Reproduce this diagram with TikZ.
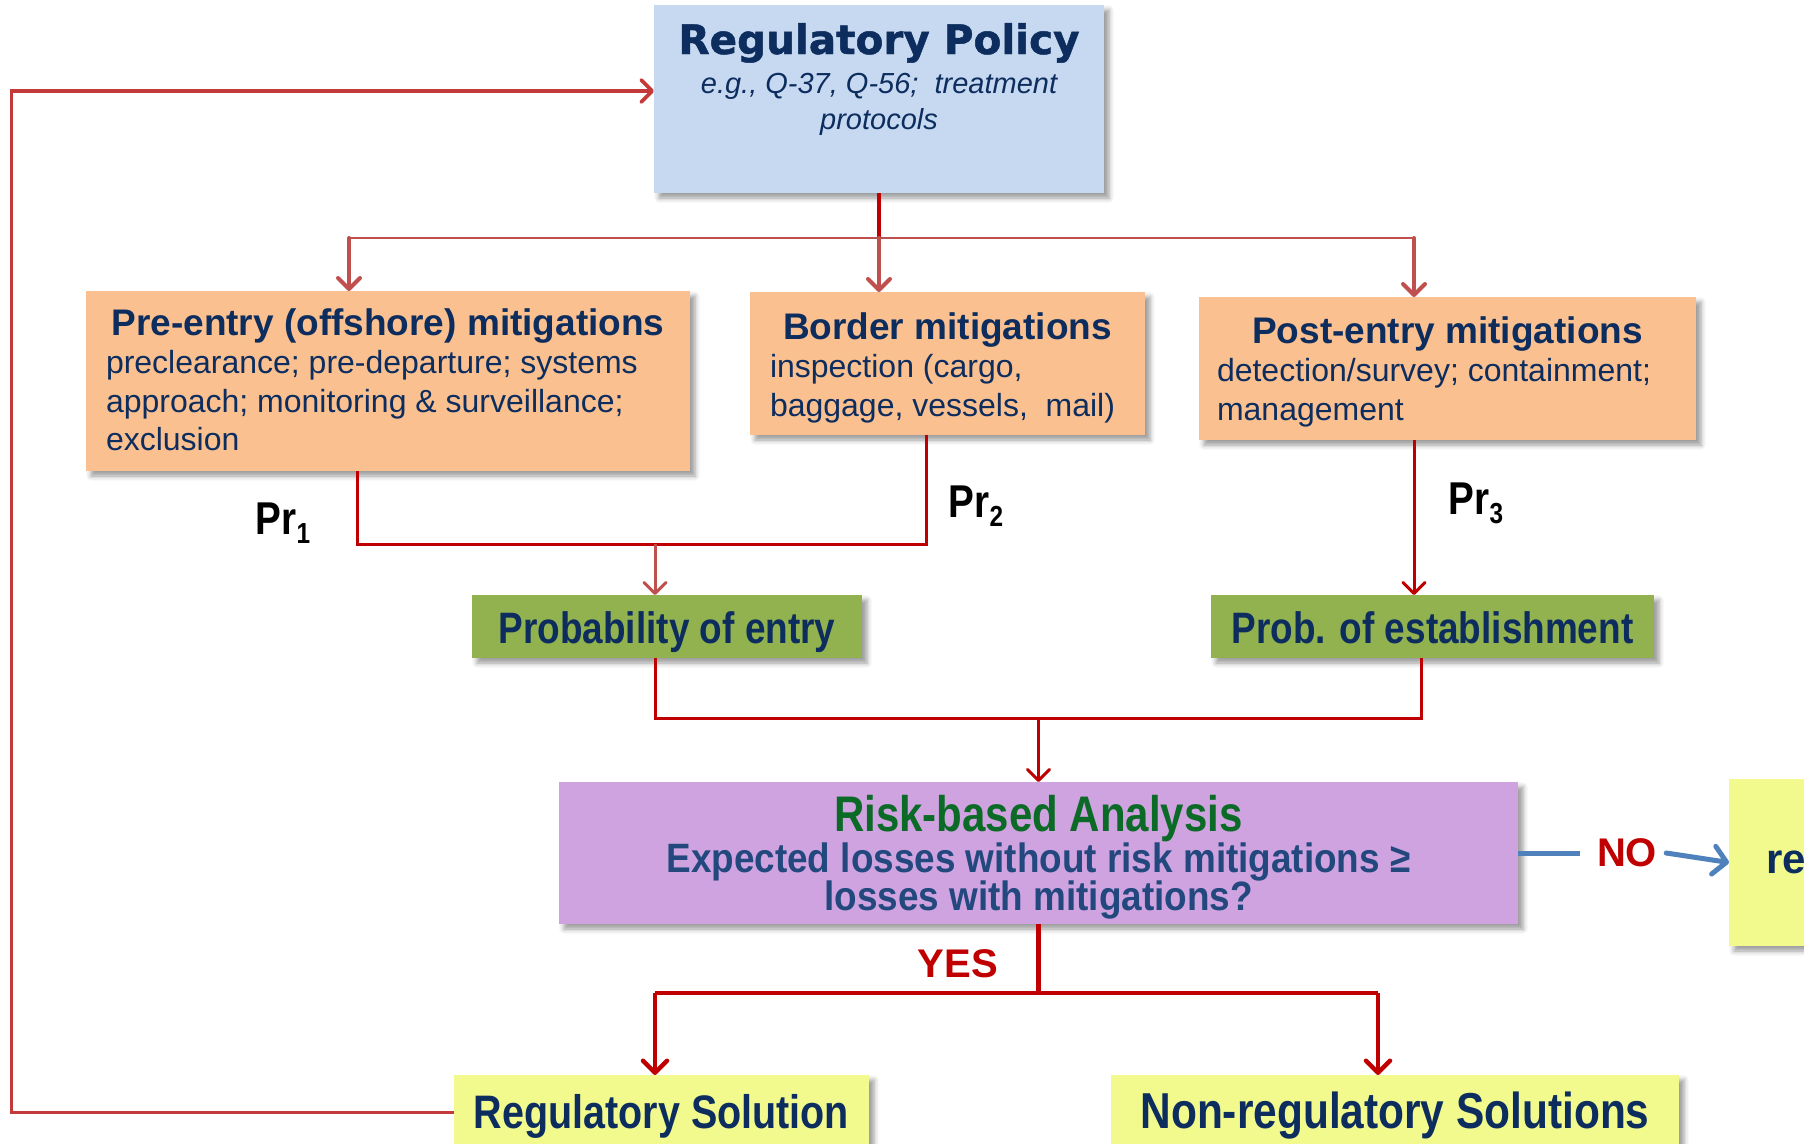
\documentclass[tikz,border=0pt]{standalone}
\usepackage{fontspec}
\setmainfont{Liberation Sans}
\newfontfamily\heavyfont[FakeBold=1.2]{DejaVu Sans Bold}
\newfontfamily\narrowfont[FakeStretch=0.84]{Liberation Sans}
\newfontfamily\semifont[FakeStretch=0.9]{Liberation Sans}
\usetikzlibrary{arrows.meta,shadows.blur}

\definecolor{polblue}{HTML}{C6D9F1}
\definecolor{orng}{HTML}{FAC090}
\definecolor{grn}{HTML}{92B250}
\definecolor{purp}{HTML}{CFA3E0}
\definecolor{ylw}{HTML}{F2FA8E}
\definecolor{navy}{HTML}{0D2D5E}
\definecolor{rgreen}{HTML}{0B6A26}
\definecolor{rblue}{HTML}{22487E}
\definecolor{dkred}{HTML}{C00000}
\definecolor{ltred}{HTML}{C0504D}
\definecolor{fbred}{HTML}{C43A3A}
\definecolor{nblue}{HTML}{4F81BD}

\tikzset{
  box/.style={inner sep=0pt, outer sep=0pt,
    blur shadow={shadow xshift=5pt, shadow yshift=-5pt, shadow blur radius=5pt, shadow opacity=40}},
  barb/.style={-{Straight Barb[length=11pt, width=22pt, line cap=round, line join=round]}},
  dkline/.style={draw=dkred, line width=3pt, line join=miter},
  dkthick/.style={draw=dkred, line width=4.5pt, line join=miter},
  ltline/.style={draw=ltred, line width=2.6pt},
  ltarrow/.style={draw=ltred, line width=4pt, line cap=round, barb},
  ltarrowthin/.style={draw=ltred, line width=3pt, barb},
  dkarrow/.style={draw=dkred, line width=3pt, barb},
  dkthickarrow/.style={draw=dkred, line width=4.5pt,
    -{Straight Barb[length=12pt, width=24pt, line cap=round, line join=round]}},
  fbline/.style={draw=fbred, line width=3.6pt, line join=miter, barb},
  blueln/.style={draw=nblue, line width=5pt},
  bluearrow/.style={draw=nblue, line width=5pt, line cap=round,
    -{Straight Barb[length=13pt, width=28pt, line cap=round, line join=round]}},
  answer/.style={inner sep=0pt, text=dkred, font=\bfseries\fontsize{40}{40}\selectfont},
  prlabel/.style={inner sep=0pt, text=black, font=\narrowfont\bfseries\fontsize{46}{46}\selectfont},
  solbox/.style={box, fill=ylw, text=navy, text height=36pt, text depth=5pt},
  probbox/.style={box, fill=grn, text=navy, text height=33pt, text depth=0pt,
    font=\narrowfont\bfseries\fontsize{44}{44}\selectfont}
}

\newcommand{\prsub}[1]{\raisebox{-9pt}{\fontsize{29}{29}\selectfont #1}}

\begin{document}
\begin{tikzpicture}[x=1pt, y=-1pt]
\useasboundingbox (0,0) rectangle (1804,1143);
\clip (0,0) rectangle (1804,1143);

% ---- policy box
\node[box, fill=polblue] (pol) at (879,99) {\parbox[c][188pt][t]{450pt}{\centering\color{navy}\lineskiplimit=-100pt
  {\heavyfont\fontsize{40.5}{45}\selectfont\rule{0pt}{49pt}Regulatory Policy\par}
  {\itshape\fontsize{29}{39}\selectfont e.g., Q-37, Q-56;\ \ treatment\par}
  {\itshape\fontsize{29}{36}\selectfont protocols\par}}};

% ---- mitigation boxes
\node[box, fill=orng] (pre) at (388,381) {\parbox[c][180pt][t]{604pt}{\color{navy}
  {\centering\bfseries\fontsize{37}{40}\selectfont\rule{0pt}{44pt}Pre-entry (offshore) mitigations\par}
  {\raggedright\leftskip=20pt\fontsize{32}{38.5}\selectfont preclearance; pre-departure; systems\\
   approach; monitoring \& surveillance;\\ exclusion\par}}};

\node[box, fill=orng] (bor) at (947.5,363.5) {\parbox[c][143pt][t]{395pt}{\color{navy}
  {\centering\bfseries\fontsize{37}{40}\selectfont\rule{0pt}{47pt}Border mitigations\par}
  {\raggedright\leftskip=20pt\fontsize{32}{38.5}\selectfont inspection (cargo,\\
   baggage, vessels,\ \ mail)\par}}};

\node[box, fill=orng] (post) at (1447.5,368.5) {\parbox[c][143pt][t]{497pt}{\color{navy}
  {\centering\bfseries\fontsize{37}{40}\selectfont\rule{0pt}{46pt}Post-entry mitigations\par}
  {\raggedright\leftskip=18pt\fontsize{32}{38.5}\selectfont detection/survey; containment;\\
   management\par}}};

% ---- probability boxes
\node[probbox, minimum width=390pt, minimum height=63pt] (pen) at (667,626.5) {Probability of entry\hspace{14pt}};
\node[probbox, minimum width=443pt, minimum height=63pt] (pest) at (1432.5,626.5) {Prob. of establishment};

% ---- analysis box
\node[box, fill=purp] (risk) at (1038.5,853) {\parbox[c][142pt][t]{959pt}{\centering\bfseries\lineskiplimit=-100pt
  {\narrowfont\bfseries\color{rgreen}\fontsize{50}{50}\selectfont\rule{0pt}{49pt}Risk-based Analysis\par}
  {\semifont\bfseries\color{rblue}\fontsize{41}{41}\selectfont Expected losses without risk mitigations ≥\par}
  {\semifont\bfseries\color{rblue}\fontsize{41}{38}\selectfont losses with mitigations?\par}}};

% ---- outcome boxes
\node[solbox, minimum width=415pt, minimum height=75pt,
      font=\narrowfont\bfseries\fontsize{47}{47}\selectfont] (rsol) at (661.5,1112.5) {Regulatory Solution};
\node[solbox, minimum width=568pt, minimum height=75pt,
      font=\narrowfont\bfseries\fontsize{50.5}{50.5}\selectfont] (nsol) at (1395,1112.5) {Non-regulatory Solutions};
\node[box, fill=ylw, anchor=west, minimum height=167pt, text width=226pt, inner xsep=37pt,
      align=left, text=navy, font=\bfseries\fontsize{42}{42}\selectfont] (rej) at (1729,862.5) {re};

% ---- labels
\node[prlabel] (pr1) at (283,523) {Pr\prsub{1}};
\node[prlabel] (pr2) at (976,506) {Pr\prsub{2}};
\node[prlabel] (pr3) at (1476,503) {Pr\prsub{3}};
\node[answer] (yes) at (958,964) {YES};
\node[answer] (no) at (1627,853) {NO};

% ---- policy to the three mitigation groups
\coordinate (split) at (879,238);
\coordinate (t1) at (349,238);
\coordinate (t3) at (1414,238);
\draw[dkthick] (pol.south) -- (split);
\draw[ltline] (t1) -- (t3);
\draw[ltarrow] (t1) -- (t1 |- pre.north);
\draw[ltarrow] (split) -- (split |- bor.north);
\draw[ltarrow] (t3) -- (t3 |- post.north);

% ---- pre-entry and border combine into probability of entry
\coordinate (m1) at (357,544);
\coordinate (m2) at (926,544);
\coordinate (m0) at (655,544);
\draw[dkline] (m1 |- pre.south) -- (m1) -- (m2) -- (m2 |- bor.south);
\draw[ltarrowthin] (m0) -- (m0 |- pen.north);

% ---- post-entry to probability of establishment
\draw[dkarrow] (t3 |- post.south) -- (t3 |- pest.north);

% ---- both probabilities feed the analysis
\coordinate (p1) at (655,718);
\coordinate (p2) at (1421,718);
\coordinate (p0) at (1038.5,718);
\draw[dkline] (p1 |- pen.south) -- (p1) -- (p2) -- (p2 |- pest.south);
\draw[dkarrow] (p0) -- (risk.north);

% ---- YES branch
\coordinate (y0) at (1038.5,993);
\coordinate (y1) at (655,993);
\coordinate (y2) at (1378,993);
\draw[dkthick] (risk.south) -- (y0);
\draw[dkthick] (y1) -- (y2);
\draw[dkthickarrow] (y1) -- (y1 |- rsol.north);
\draw[dkthickarrow] (y2) -- (y2 |- nsol.north);

% ---- NO branch
\draw[blueln] (risk.east) -- ([xshift=-17pt]no.west);
\draw[bluearrow] ([xshift=9pt]no.east) -- (rej.west);

% ---- feedback loop back to policy
\coordinate (fb) at (11.5,91);
\draw[fbline] (rsol.west) -- (rsol.west -| fb) -- (fb) -- (fb -| pol.west);
\end{tikzpicture}
\end{document}
